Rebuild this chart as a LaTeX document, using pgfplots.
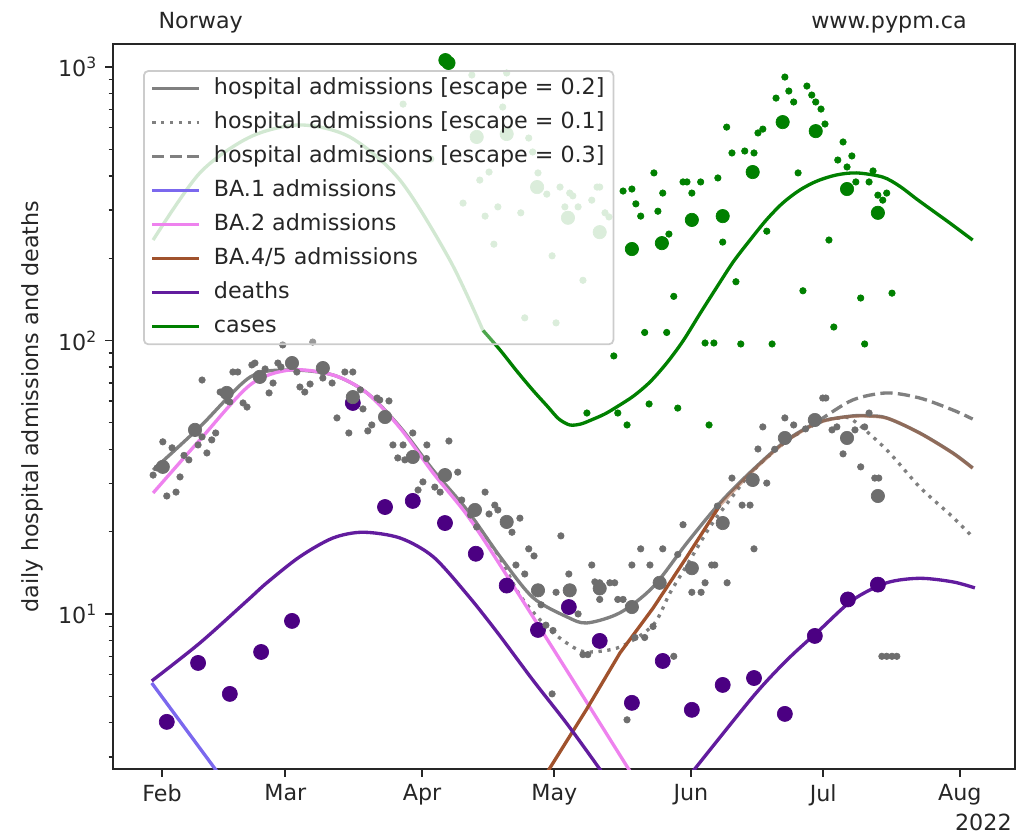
\documentclass[border=0pt]{standalone}
\usepackage{fontspec}
\setmainfont{DejaVu Sans}
\usepackage{pgfplots}
\pgfplotsset{compat=1.18}
\usetikzlibrary{calc}

\definecolor{casegreen}{RGB}{0,128,0}
\definecolor{dotgrey}{RGB}{110,110,110}
\definecolor{hospgrey}{RGB}{128,128,128}
\definecolor{baone}{RGB}{123,104,238}
\definecolor{batwo}{RGB}{238,130,238}
\definecolor{bafour}{RGB}{160,82,45}
\definecolor{deathdot}{RGB}{75,0,130}
\definecolor{deathline}{RGB}{98,28,158}
\definecolor{framegrey}{RGB}{204,204,204}

\pgfplotsset{
    dots/.style={only marks, mark=*, forget plot, color=#1, mark options={line width=0.3pt}},
}

\begin{document}
\begin{tikzpicture}
\begin{axis}[
    scale only axis,
    width=405.9pt, height=326.25pt,
    ymode=log,
    xmin=-11.1, xmax=193.5,
    ymin=2.71, ymax=1214,
    clip marker paths=true,
    xtick={0,28,59,89,120,150,181},
    xticklabels={Feb,Mar,Apr,May,Jun,Jul,Aug},
    ytick={10,100,1000},
    yticklabels={10\textsuperscript{1},10\textsuperscript{2},10\textsuperscript{3}},
    minor ytick={3,4,5,6,7,8,9,20,30,40,50,60,70,80,90,200,300,400,500,600,700,800,900},
    tick align=outside,
    xtick pos=bottom, ytick pos=left,
    major tick length=3.5pt, minor tick length=2pt,
    tick style={black!85, line width=0.8pt},
    minor tick style={line width=0.6pt},
    axis line style={black!85, line width=0.8pt},
    ticklabel style={font=\fontsize{10}{12}\selectfont, text=black!85},
    ylabel={daily hospital admissions and deaths},
    ylabel style={font=\fontsize{10}{12}\selectfont, text=black!85},
    legend cell align=left,
    legend image code/.code={\draw[#1] (0pt,0pt) -- (21pt,0pt);},
    legend style={at={(0.0333,0.964)}, anchor=north west,
        fill=white, fill opacity=0.3, text opacity=1,
        draw=framegrey, line width=0.8pt, rounded corners=2pt,
        inner xsep=3pt, inner ysep=2pt, row sep=3.4pt, column sep=5pt,
        font=\fontsize{10}{12}\selectfont, text=black!85,
        nodes={inner sep=1pt, text height=7.5pt, text depth=2.4pt}},
]

% model curves (legend order)
\addplot[hospgrey, line width=1.5pt, smooth] table {
-2.0 33.6
8.6 48.3
20.0 73.5
29.0 78.0
38.8 74.8
46.5 64.3
54.0 48.3
61.5 33.6
69.2 24.0
76.7 16.2
84.1 11.5
91.9 9.75
96.4 9.27
103.9 10.1
111.4 12.55
119.1 18.2
126.6 25.5
134.0 33.6
141.8 43.3
149.2 50.4
156.7 53.0
160.6 53.0
164.4 52.1
171.9 45.9
179.4 38.8
183.9 34.2
};
\addlegendentry{hospital admissions [escape = 0.2]}

\addplot[hospgrey, line width=1.5pt, smooth, dash pattern=on 1.5pt off 2.5pt] table {
70.0 23.0
76.7 16.0
81.2 11.7
87.3 8.96
92.5 7.7
96.4 7.26
103.9 7.57
111.4 9.1
115.2 11.9
119.1 15.1
124.3 20.8
128.8 26.1
134.0 33.3
141.8 43.0
149.2 50.2
153.8 52.1
156.7 51.2
164.4 39.8
171.9 29.1
179.4 22.6
183.9 19.1
};
\addlegendentry{hospital admissions [escape = 0.1]}

\addplot[hospgrey, line width=1.5pt, smooth, dash pattern=on 5.5pt off 2.4pt] table {
141.8 43.3
149.2 51.2
156.7 60.6
164.4 64.3
171.9 61.6
179.4 55.7
183.9 51.6
};
\addlegendentry{hospital admissions [escape = 0.3]}

\addplot[baone, line width=1.5pt] table {
-2.3 5.59
13.6 2.51
};
\addlegendentry{BA.1 admissions}

\addplot[batwo, line width=1.5pt, smooth] table {
-2.0 27.7
8.6 43.3
20.0 68.8
29.0 78.0
38.8 74.8
46.5 64.3
54.0 47.9
61.5 32.8
69.2 23.0
76.7 15.1
91.9 6.19
108.4 2.33
};
\addlegendentry{BA.2 admissions}

\addplot[bafour, line width=1.5pt] table {
86.9 2.56
96.4 4.5
103.9 7.2
111.4 10.5
119.1 16.2
126.6 25.0
};
\addlegendentry{BA.4/5 admissions}

\addplot[deathline, line width=1.5pt, smooth] table {
-2.3 5.69
8.6 7.83
19.5 11.25
23.8 13.0
31.3 16.2
38.8 18.96
45.6 19.9
54.0 18.96
61.5 16.2
69.2 11.8
76.0 8.59
84.1 5.74
91.9 3.96
99.3 2.71
101.0 2.45
};
\addlegendentry{deaths}

\addplot[casegreen, line width=1.5pt, smooth] table {
72.8 109
76.7 92.3
80.5 77.3
84.1 65.9
87.5 57.3
90.0 51.7
92.5 49.1
95.0 49.5
97.5 51.3
100.5 53.9
103.5 57.6
107.0 62.7
110.7 70.5
114.5 82.7
118.2 99.6
122.0 125
125.9 157
129.6 194
133.4 233
137.1 276
140.8 318
144.7 355
148.6 383
153.0 403
157.6 410
163.5 396
167.3 367
171.2 329
175.0 297
178.7 269
183.9 233
};
\addlegendentry{cases}

% BA.4/5 where it runs under the total, second deaths wave, faded early cases curve
\addplot[bafour, line width=1.5pt, smooth, opacity=0.45, forget plot] table {
126.6 25.0
134.0 33.3
141.8 43.0
149.2 50.2
156.7 52.8
164.4 52.0
171.9 45.8
179.4 38.7
183.9 34.1
};
\addplot[deathline, line width=1.5pt, smooth, forget plot] table {
119.8 2.58
134.0 4.97
141.8 6.79
149.2 8.74
156.7 11.25
164.4 13.0
171.9 13.5
179.4 13.1
184.4 12.45
};
\addplot[casegreen!25, line width=1.5pt, smooth, forget plot] table {
-2.0 233
8.6 410
20.0 555
31.3 614
42.6 555
54.0 386
65.3 197
72.8 109
};

% deaths (weekly)
\addplot[dots=deathdot, mark size=3.4pt] table {
1.1 4.03
8.2 6.62
15.4 5.10
22.5 7.26
29.5 9.43
43.3 59.1
50.6 24.6
56.9 25.9
64.2 21.5
71.2 16.6
78.2 12.7
85.3 8.74
92.3 10.6
99.3 7.97
106.6 4.73
113.6 6.73
120.2 4.46
127.2 5.50
134.3 5.83
141.3 4.31
148.1 8.31
155.6 11.3
162.4 12.8
};

% hospital admissions, daily
\addplot[dots=dotgrey, mark size=1.45pt] table {
-2.0 32.2
-1.1 34.2
0.2 42.6
1.1 27.0
2.3 40.5
3.2 27.9
4.1 31.7
5.0 38.0
6.1 36.6
8.2 41.5
9.1 44.4
10.2 38.8
11.3 43.3
12.2 45.9
9.1 71.7
13.2 64.8
15.0 60.0
15.4 59.6
18.4 59.1
19.3 57.1
16.1 76.7
17.2 76.7
20.4 81.4
21.1 82.7
23.4 78.7
24.3 64.3
25.2 69.9
26.3 82.7
27.0 80.0
27.4 96.3
34.2 98.7
30.6 76.7
31.3 67.6
32.4 64.8
33.6 69.3
36.5 72.9
38.6 69.9
41.5 76.7
43.3 76.7
39.7 52.1
42.4 45.9
45.0 66.0
45.6 56.2
46.7 46.7
47.6 49.1
48.8 61.6
49.4 60.6
51.5 60.1
52.4 41.5
53.5 37.2
56.9 45.9
54.7 41.5
60.1 41.5
60.0 37.0
65.1 42.9
55.1 36.6
67.1 33.0
59.2 30.4
58.1 28.4
61.9 29.1
63.1 27.9
68.0 26.1
70.0 23.0
73.3 27.9
75.5 25.0
76.2 24.0
74.2 23.2
81.2 22.4
79.4 19.9
71.4 20.8
90.5 19.3
83.2 17.3
84.4 16.3
80.3 15.1
82.3 14.0
86.0 10.8
92.3 14.0
97.5 15.1
106.6 15.1
89.4 12.0
94.4 10.0
98.2 13.1
99.3 13.0
101.6 13.0
102.7 13.0
99.3 11.3
103.4 11.3
104.6 11.3
87.1 9.1
88.7 8.7
108.6 17.3
113.6 17.3
117.0 16.5
118.2 21.2
110.7 15.1
95.5 7.1
96.6 7.1
116.1 7.0
88.5 5.1
105.5 4.1
107.3 8.2
109.5 8.2
111.4 9.0
124.7 15.1
125.4 15.1
123.2 13.0
120.2 12.0
122.3 12.0
126.0 24.8
128.2 13.0
134.3 17.3
129.3 31.4
131.6 25.0
133.4 25.0
137.2 30.1
135.2 40.1
136.3 48.3
139.0 40.0
141.3 52.1
143.3 49.1
146.0 47.5
149.9 61.6
150.6 61.6
152.0 47.1
153.1 48.3
157.2 47.1
159.4 48.3
154.5 38.5
158.5 34.5
161.7 31.4
162.6 31.4
160.4 54.3
163.3 7.0
164.4 7.0
165.6 7.0
166.7 7.0
};

% hospital admissions, weekly
\addplot[dots=dotgrey, mark size=3.0pt] table {
0.2 34.5
7.5 47.1
14.7 64.3
22.2 73.6
29.5 82.7
36.5 79.3
43.3 62.1
50.6 52.5
56.9 37.5
64.2 32.2
71.0 24.0
78.2 21.7
85.3 12.2
92.5 12.2
99.3 12.4
106.6 10.6
112.9 13.0
120.2 14.7
127.2 21.5
134.0 30.9
141.3 44.0
148.1 51.2
155.4 44.0
162.4 27.0
};

% cases, early (faded)
\addplot[dots=casegreen!20, mark size=1.45pt] table {
70.3 935
78.2 951
54.7 732
77.3 714
83.2 550
61.0 461
84.1 489
74.2 413
72.1 386
85.3 410
87.3 343
90.3 364
92.5 346
93.2 338
98.7 364
99.3 364
68.3 318
76.2 308
73.3 285
81.4 293
91.4 308
94.4 308
97.5 326
100.5 293
101.4 283
75.3 225
88.5 204
95.5 166
82.3 121
89.4 116
};
\addplot[dots=casegreen!20, mark size=3.0pt] table {
71.4 555
78.2 569
85.1 364
92.1 281
99.3 249
};

% cases, daily
\addplot[dots=casegreen, mark size=1.45pt] table {
47.6 1215
141.3 919
146.3 852
142.2 817
139.3 770
147.4 790
148.3 745
143.3 745
149.5 702
150.4 619
136.3 593
135.2 574
128.1 603
154.5 532
129.3 485
132.2 493
134.3 485
156.5 473
153.3 457
155.4 431
161.3 417
144.3 410
111.6 410
126.1 393
118.2 380
119.1 380
122.2 380
157.4 380
160.4 380
104.6 352
106.6 358
113.6 346
120.2 346
162.4 340
164.4 346
163.5 326
107.5 316
112.5 297
108.6 285
115.0 245
137.2 251
151.3 233
127.2 229
130.2 164
116.1 145
145.4 152
158.5 143
165.6 149
109.5 107
114.5 107
152.4 112
123.2 97.9
125.2 97.9
131.3 97.1
138.4 97.1
159.4 97.1
102.5 87.8
110.5 58.6
117.0 56.6
103.4 54.3
96.4 54.3
105.5 49.1
124.1 49.1
};

% cases, weekly
\addplot[dots=casegreen, mark size=3.0pt] table {
64.3 1060
65.0 1035
106.6 216
113.4 227
120.2 276
127.2 285
134.0 413
140.8 629
148.3 583
155.4 358
162.4 293
};

\end{axis}

\node[anchor=base west, inner sep=0pt, font=\fontsize{10}{12}\selectfont, text=black!85]
    at ($(current axis.north west)+(20.3pt,7.1pt)$) {Norway};
\node[anchor=base east, inner sep=0pt, font=\fontsize{10}{12}\selectfont, text=black!85]
    at ($(current axis.north east)+(-21.5pt,7.1pt)$) {www.pypm.ca};
\node[anchor=base east, inner sep=0pt, font=\fontsize{10}{12}\selectfont, text=black!85]
    at ($(current axis.south east)+(-1.3pt,-27.5pt)$) {2022};

\pgfresetboundingbox
\path ($(current axis.south west)+(-50.85pt,-29.7pt)$) rectangle ($(current axis.north east)+(6.75pt,19.8pt)$);
\end{tikzpicture}
\end{document}
